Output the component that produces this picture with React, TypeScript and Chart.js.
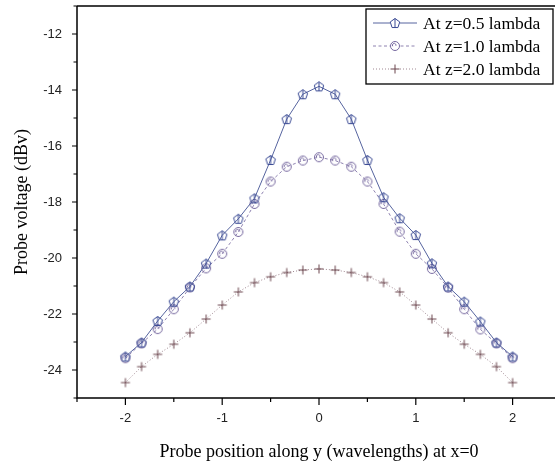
import React, { useEffect, useRef } from "react";
import { Chart, registerables } from "chart.js";

Chart.register(...registerables);

const positions = [
  -2, -1.8333, -1.6667, -1.5, -1.3333, -1.1667, -1, -0.8333, -0.6667, -0.5, -0.3333, -0.1667, 0,
  0.1667, 0.3333, 0.5, 0.6667, 0.8333, 1, 1.1667, 1.3333, 1.5, 1.6667, 1.8333, 2,
];
const z05 = [
  -23.52, -23.02, -22.25, -21.56, -21.02, -20.2, -19.19, -18.6, -17.87, -16.5, -15.04, -14.15, -13.87,
  -14.15, -15.04, -16.5, -17.83, -18.58, -19.18, -20.19, -21.02, -21.56, -22.27, -23.02, -23.52,
];
const z10 = [
  -23.58, -23.05, -22.54, -21.83, -21.05, -20.37, -19.85, -19.07, -18.07, -17.27, -16.74, -16.52, -16.4,
  -16.52, -16.74, -17.27, -18.07, -19.06, -19.85, -20.39, -21.06, -21.83, -22.55, -23.05, -23.58,
];
const z20 = [
  -24.45, -23.88, -23.44, -23.08, -22.67, -22.18, -21.68, -21.21, -20.88, -20.67, -20.52, -20.43, -20.39,
  -20.43, -20.52, -20.67, -20.88, -21.21, -21.68, -22.18, -22.67, -23.08, -23.44, -23.88, -24.45,
];
const seriesLabels = ["At z=0.5 lambda", "At z=1.0 lambda", "At z=2.0 lambda"];
const yTickValues = [-24, -22, -20, -18, -16, -14, -12];
const xTickValues = [-2, -1, 0, 1, 2];
const xTitle = "Probe position along y (wavelengths) at x=0";
const yTitle = "Probe voltage (dBv)";

const C1 = "#3a4a94";
const C1L = "#56649f";
const C2 = "#76689f";
const C2L = "#8e82b0";
const C3 = "#6a444c";
const C3L = "#a08892";

function makeMarker(kind: string, color: string): HTMLCanvasElement {
  const s = 14;
  const c = document.createElement("canvas");
  c.width = s;
  c.height = s;
  const g = c.getContext("2d")!;
  g.strokeStyle = color;
  g.lineWidth = 1;
  const cx = s / 2;
  const cy = s / 2;
  if (kind === "pent") {
    const r = 5;
    g.beginPath();
    for (let i = 0; i < 5; i++) {
      const a = -Math.PI / 2 + (i * 2 * Math.PI) / 5;
      const x = cx + r * Math.cos(a);
      const y = cy + 0.5 + r * Math.sin(a);
      if (i === 0) g.moveTo(x, y);
      else g.lineTo(x, y);
    }
    g.closePath();
    g.stroke();
    g.beginPath();
    g.moveTo(cx, cy + 0.5 - r);
    g.lineTo(cx, cy + 0.5 + r * 0.81);
    g.stroke();
  } else if (kind === "circ") {
    g.beginPath();
    g.arc(cx, cy, 4.5, 0, Math.PI * 2);
    g.stroke();
    g.beginPath();
    g.arc(cx - 0.8, cy - 0.8, 1.8, Math.PI * 0.8, Math.PI * 2.1);
    g.stroke();
  } else {
    g.beginPath();
    g.moveTo(cx - 4.5, cy);
    g.lineTo(cx + 4.5, cy);
    g.moveTo(cx, cy - 4.5);
    g.lineTo(cx, cy + 4.5);
    g.stroke();
  }
  return c;
}

export default function App() {
  const ref = useRef<HTMLCanvasElement | null>(null);
  useEffect(() => {
    document.body.style.margin = "0";
    const m1 = makeMarker("pent", C1);
    const m2 = makeMarker("circ", C2);
    const m3 = makeMarker("plus", C3);
    const markers = [m1, m2, m3];
    const lineColors = [C1L, C2L, C3L];
    const dashes = [[], [3, 2.5], [1, 2]];

    const framePlugin = {
      id: "frame",
      afterDraw(chart: any) {
        const { ctx, chartArea } = chart;
        const xs = chart.scales.x;
        const ys = chart.scales.y;
        ctx.save();
        ctx.strokeStyle = "#000";
        ctx.lineWidth = 1.5;
        ctx.beginPath();
        ctx.moveTo(chartArea.left, chartArea.top);
        ctx.lineTo(chartArea.right, chartArea.top);
        ctx.moveTo(chartArea.left, chartArea.top);
        ctx.lineTo(chartArea.left, chartArea.bottom);
        ctx.lineTo(chartArea.right, chartArea.bottom);
        ctx.lineTo(chartArea.right, chartArea.top);
        ctx.stroke();
        ctx.lineWidth = 1.2;
        ctx.beginPath();
        for (let v = -2.5; v <= 2.5001; v += 0.5) {
          const px = xs.getPixelForValue(v);
          const major = Math.abs(v - Math.round(v)) < 1e-6;
          ctx.moveTo(px, chartArea.bottom);
          ctx.lineTo(px, chartArea.bottom + (major ? 7 : 4));
        }
        for (let v = -25; v <= -11; v += 1) {
          const py = ys.getPixelForValue(v);
          const major = v % 2 === 0;
          ctx.moveTo(chartArea.left, py);
          ctx.lineTo(chartArea.left - (major ? 5 : 3.5), py);
        }
        ctx.stroke();

        // legend
        const lx = 366, ly = 9, lw = 187, lh = 75;
        ctx.fillStyle = "#fff";
        ctx.fillRect(lx, ly, lw, lh);
        ctx.strokeStyle = "#000";
        ctx.lineWidth = 1.3;
        ctx.strokeRect(lx, ly, lw, lh);
        const rows = [23, 46, 69];
        ctx.font = "17.5px 'Liberation Serif', serif";
        ctx.textBaseline = "middle";
        ctx.textAlign = "left";
        for (let i = 0; i < 3; i++) {
          const y = rows[i];
          ctx.strokeStyle = lineColors[i];
          ctx.lineWidth = 1;
          ctx.setLineDash(dashes[i]);
          ctx.beginPath();
          ctx.moveTo(373, y);
          ctx.lineTo(417, y);
          ctx.stroke();
          ctx.setLineDash([]);
          ctx.fillStyle = "#fff";
          ctx.fillRect(390, y - 6, 10, 12);
          ctx.drawImage(markers[i], 395 - 7, y - 7);
          ctx.fillStyle = "#000";
          ctx.fillText(seriesLabels[i], 423, y + 1);
        }
        ctx.restore();
      },
    };

    const mk = (data: number[], i: number) => ({
      label: seriesLabels[i],
      data: positions.map((x, k) => ({ x, y: data[k] })),
      borderColor: lineColors[i],
      borderWidth: 1,
      borderDash: dashes[i],
      pointStyle: markers[i],
      pointRadius: 5,
      showLine: true,
      fill: false,
      tension: 0,
    });

    const chart = new Chart(ref.current!, {
      type: "scatter",
      data: {
        datasets: [mk(z05, 0), mk(z10, 1), mk(z20, 2)],
      },
      plugins: [framePlugin],
      options: {
        animation: false,
        responsive: false,
        maintainAspectRatio: false,
        layout: { padding: { left: 0, top: 6, right: 575 - 561, bottom: 0 } },
        plugins: { legend: { display: false }, tooltip: { enabled: false } },
        scales: {
          x: {
            type: "linear",
            min: -2.5,
            max: 2.5,
            grid: { display: false, drawTicks: false },
            border: { display: false },
            afterBuildTicks: (s: any) => {
              s.ticks = xTickValues.map((v) => ({ value: v }));
            },
            afterFit: (s: any) => {
              s.height = 464 - 398;
              s.paddingLeft = 0;
              s.paddingRight = 0;
              s.paddingTop = 0;
              s.paddingBottom = 0;
            },
            ticks: {
              padding: 13,
              color: "#222",
              font: { family: "'Liberation Sans', Arial, sans-serif", size: 13 },
              maxRotation: 0,
              callback: (v: any) => String(v),
            },
            title: {
              display: true,
              text: xTitle,
              color: "#000",
              font: { family: "'Liberation Serif', serif", size: 18 },
              padding: { top: 0, bottom: 1 },
            },
          },
          y: {
            type: "linear",
            min: -25,
            max: -11,
            grid: { display: false, drawTicks: false },
            border: { display: false },
            afterBuildTicks: (s: any) => {
              s.ticks = yTickValues.map((v) => ({ value: v }));
            },
            afterFit: (s: any) => {
              s.width = 77;
              s.paddingTop = 0;
              s.paddingBottom = 0;
              s.paddingLeft = 0;
              s.paddingRight = 0;
            },
            ticks: {
              padding: 15,
              color: "#222",
              font: { family: "'Liberation Sans', Arial, sans-serif", size: 13 },
              callback: (v: any) => String(v),
            },
            title: {
              display: true,
              text: yTitle,
              color: "#000",
              font: { family: "'Liberation Serif', serif", size: 18 },
              padding: { top: 11, bottom: 0 },
            },
          },
        },
      },
    } as any);
    return () => chart.destroy();
  }, []);
  return (
    <div style={{ width: 555, height: 464, overflow: "hidden", background: "#fff" }}>
      <canvas ref={ref} width={575} height={464} style={{ display: "block", width: 575, height: 464 }} />
    </div>
  );
}
